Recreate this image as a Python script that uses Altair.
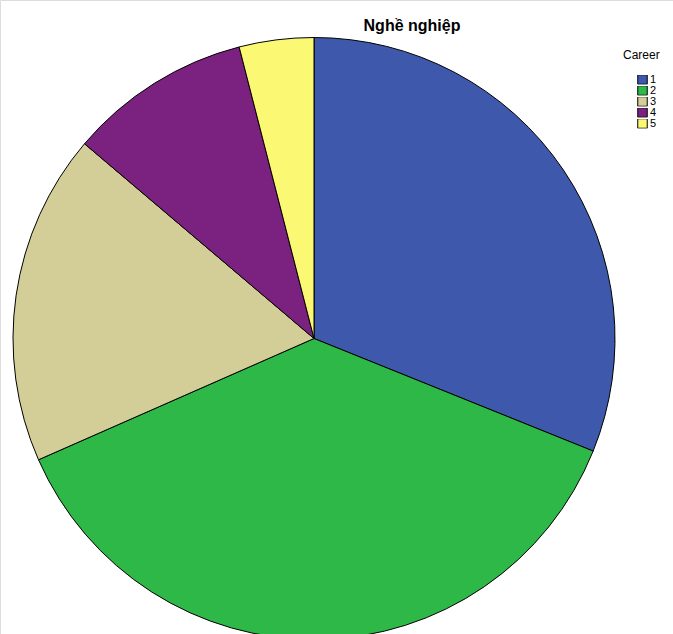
import altair as alt
import pandas as pd

careers = ["1", "2", "3", "4", "5"]
shares = [31.1, 37.3, 17.8, 9.8, 4.0]
colors = ["#3E58AC", "#2EB848", "#D3CE97", "#7B2281", "#FBF873"]

df = pd.DataFrame({"Career": careers, "Share": shares, "order": list(range(len(careers)))})

pie = alt.Chart(df).mark_arc(radius=301, stroke="black", strokeWidth=1).encode(
    theta=alt.Theta("Share:Q", stack=True),
    order=alt.Order("order:Q"),
    x=alt.value(314),
    y=alt.value(338.5),
    color=alt.Color(
        "Career:N",
        scale=alt.Scale(domain=careers, range=colors),
        legend=alt.Legend(
            title="Career",
            orient="none",
            legendX=623,
            legendY=50,
            symbolType="square",
            symbolSize=90,
            symbolStrokeColor="black",
            symbolStrokeWidth=1,
            symbolOffset=14,
            labelFontSize=11,
            labelFont="Liberation Sans",
            titleFont="Liberation Sans",
            titleFontSize=12,
            titleFontWeight="normal",
            titleColor="black",
            labelColor="black",
            titlePadding=13,
            rowPadding=-1,
            clipHeight=9,
            labelOffset=2,
            padding=0,
        ),
    ),
)

title = alt.Chart(pd.DataFrame({"t": ["Nghề nghiệp"]})).mark_text(
    font="Liberation Sans", fontSize=16, fontWeight="bold", color="black",
    align="center", baseline="alphabetic"
).encode(text="t:N", x=alt.value(412), y=alt.value(31))

chart = alt.layer(pie, title).properties(
    width=673, height=634,
    autosize=alt.AutoSizeParams(type="none"),
    padding=0,
).configure_view(stroke=None).configure(background="white")

chart.save("out.html", embed_options={"renderer": "svg", "actions": False})
